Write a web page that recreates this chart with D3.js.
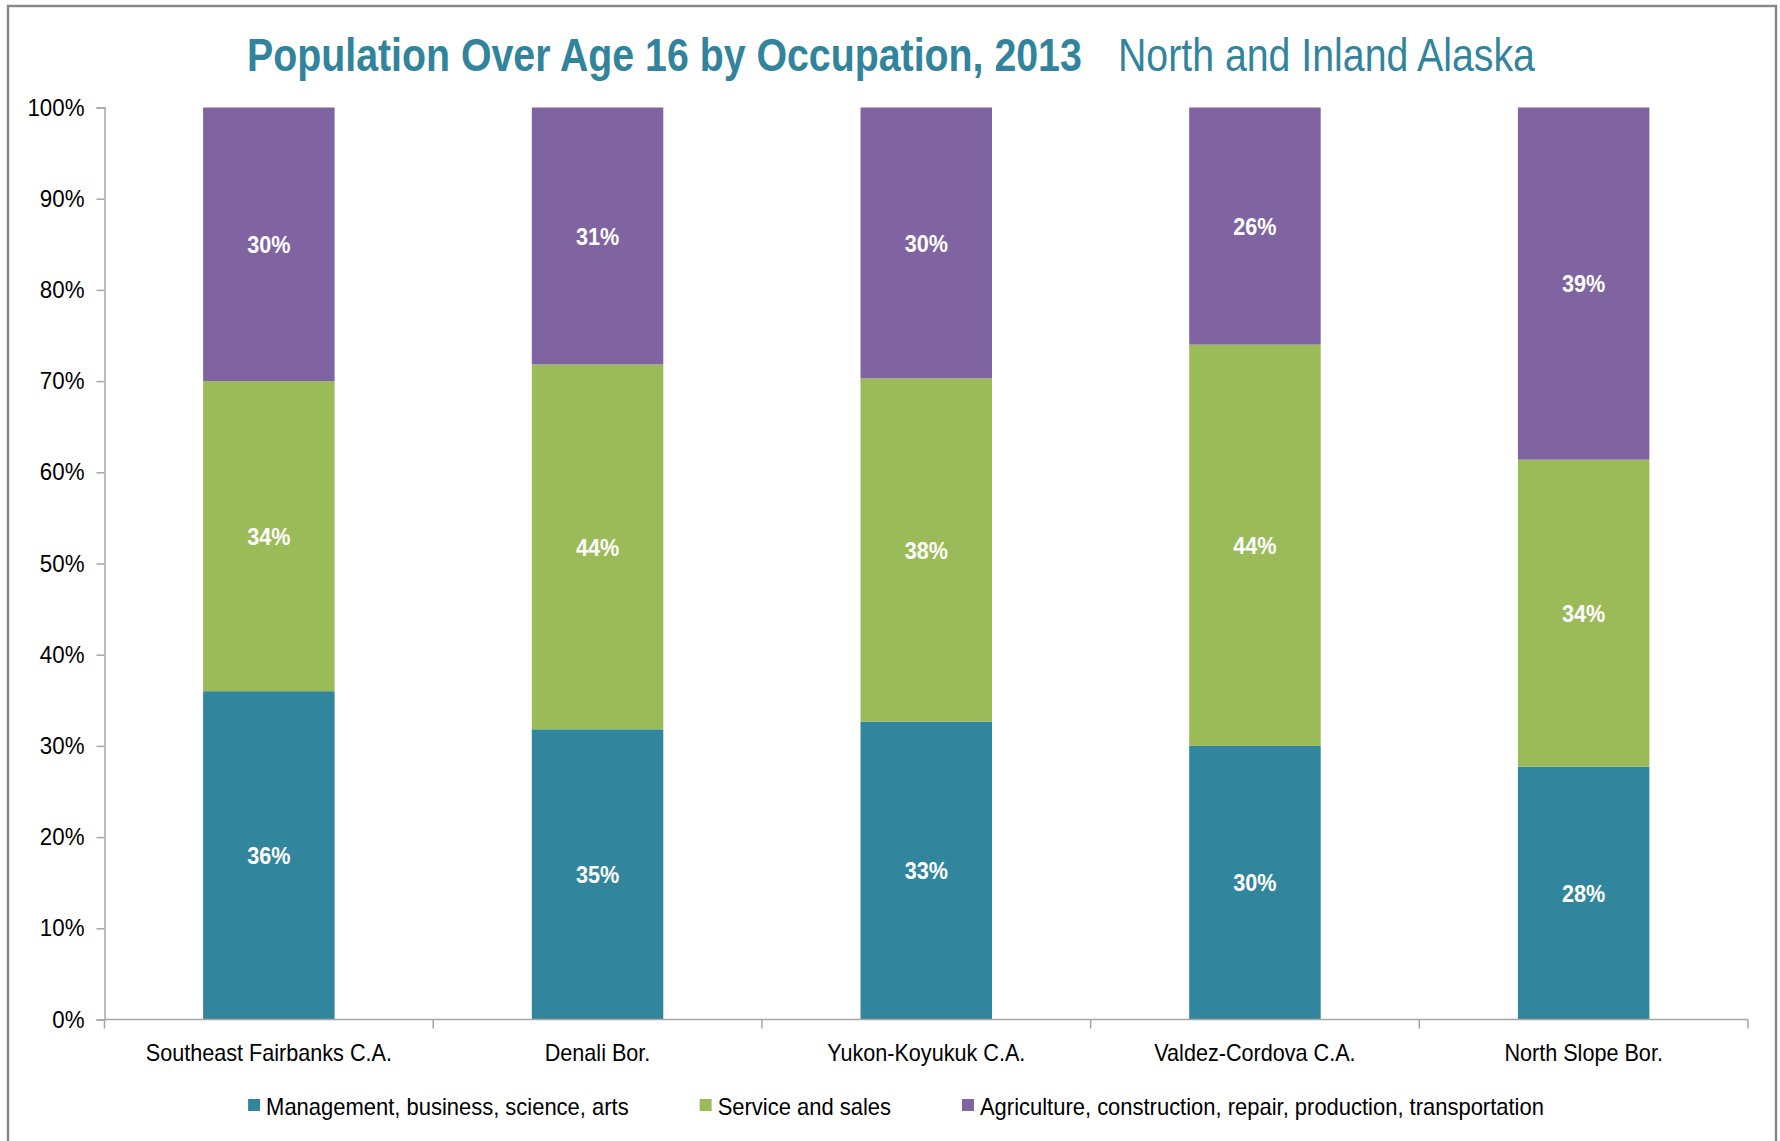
<!DOCTYPE html>
<html>
<head>
<meta charset="utf-8">
<script src="https://cdn.jsdelivr.net/npm/d3@7"></script>
<style>
  body { margin: 0; background: #fff; }
  svg text { font-family: "Liberation Sans", Arial, sans-serif; }
</style>
</head>
<body>
<div id="chart"></div>
<script>
const areas = ["Southeast Fairbanks C.A.", "Denali Bor.", "Yukon-Koyukuk C.A.", "Valdez-Cordova C.A.", "North Slope Bor."];
const seriesNames = ["Management, business, science, arts", "Service and sales", "Agriculture, construction, repair, production, transportation"];
const management = [36, 35, 33, 30, 28];
const service = [34, 44, 38, 44, 34];
const agriculture = [30, 31, 30, 26, 39];
const yTicks = [0, 0.1, 0.2, 0.3, 0.4, 0.5, 0.6, 0.7, 0.8, 0.9, 1];
const colors = ["#31859C", "#9BBB59", "#8064A2"];

const W = 1780, H = 1141;
const margin = { top: 107.5, right: 32, bottom: 121.5, left: 104.5 };
const width = W - margin.left - margin.right;
const height = H - margin.top - margin.bottom;

// squeeze text a little, the original font is narrower than Arial
const condense = (sel, k) => sel.each(function () {
    const len = this.getComputedTextLength();
    d3.select(this).attr("textLength", len * k).attr("lengthAdjust", "spacingAndGlyphs");
});

// fit a title piece into a given width by scaling it horizontally
const fitWidth = (sel, x0, y0, w) => sel.each(function () {
    const len = this.getComputedTextLength();
    d3.select(this).attr("transform", `translate(${x0},${y0}) scale(${w / len},1)`);
});

const svg = d3.select("#chart").append("svg")
    .attr("width", W)
    .attr("height", H);

svg.append("rect")
    .attr("x", 8).attr("y", 6)
    .attr("width", 1768).attr("height", H + 10)
    .attr("fill", "none")
    .attr("stroke", "#878787")
    .attr("stroke-width", 2.4);

svg.append("text")
    .attr("fill", "#31849B")
    .attr("font-size", 47)
    .attr("font-weight", "bold")
    .text("Population Over Age 16 by Occupation, 2013")
    .call(fitWidth, 247, 71, 835);

svg.append("text")
    .attr("fill", "#31849B")
    .attr("font-size", 47)
    .text("North and Inland Alaska")
    .call(fitWidth, 1118, 71, 417);

const g = svg.append("g")
    .attr("transform", `translate(${margin.left},${margin.top})`);

const rows = areas.map((a, i) => ({ area: a, s0: management[i], s1: service[i], s2: agriculture[i] }));
const stack = d3.stack().keys(["s0", "s1", "s2"]).offset(d3.stackOffsetExpand);
const layers = stack(rows);

const x = d3.scaleBand().domain(areas).range([0, width]).paddingInner(0.6).paddingOuter(0.3);
const y = d3.scaleLinear().domain([0, 1]).range([height, 0]);

const layer = g.selectAll(".layer")
    .data(layers)
    .enter().append("g")
    .attr("fill", (d, i) => colors[i]);

layer.selectAll("rect")
    .data(d => d)
    .enter().append("rect")
    .attr("x", d => x(d.data.area))
    .attr("y", d => y(d[1]))
    .attr("width", x.bandwidth())
    .attr("height", d => y(d[0]) - y(d[1]));

layer.selectAll("text")
    .data(d => d.map(p => ({ p, key: d.key })))
    .enter().append("text")
    .attr("x", d => x(d.p.data.area) + x.bandwidth() / 2)
    .attr("y", d => (y(d.p[0]) + y(d.p[1])) / 2)
    .attr("dy", "0.36em")
    .attr("text-anchor", "middle")
    .attr("fill", "#fff")
    .attr("font-size", 24)
    .attr("font-weight", "bold")
    .text(d => `${d.p.data[d.key]}%`)
    .call(condense, 0.9);

// y axis
const yAxis = g.append("g")
    .call(d3.axisLeft(y).tickValues(yTicks).tickFormat(d3.format(".0%")).tickSizeOuter(0).tickSize(8).tickPadding(12));
yAxis.select(".domain").attr("stroke", "#a6a6a6").attr("stroke-width", 1.5);
yAxis.selectAll(".tick line").attr("stroke", "#a6a6a6").attr("stroke-width", 1.5);
yAxis.selectAll(".tick text")
    .attr("font-size", 24)
    .attr("fill", "#000")
    .attr("font-family", "\"Liberation Sans\", Arial, sans-serif")
    .call(condense, 0.93);

// x axis, ticks sit between the categories like Excel
const xAxis = g.append("g")
    .attr("transform", `translate(0,${height})`);
xAxis.append("line")
    .attr("x1", 0).attr("x2", width)
    .attr("stroke", "#a6a6a6").attr("stroke-width", 1.5);
xAxis.selectAll(".sep")
    .data(d3.range(areas.length + 1))
    .enter().append("line")
    .attr("x1", i => i * x.step()).attr("x2", i => i * x.step())
    .attr("y1", 0).attr("y2", 9)
    .attr("stroke", "#a6a6a6").attr("stroke-width", 1.5);
xAxis.selectAll(".cat")
    .data(areas)
    .enter().append("text")
    .attr("x", d => x(d) + x.bandwidth() / 2)
    .attr("y", 41)
    .attr("text-anchor", "middle")
    .attr("font-size", 24)
    .attr("fill", "#000")
    .text(d => d)
    .call(condense, 0.9);

// legend
const legend = svg.append("g");
const items = legend.selectAll(".legend")
    .data(seriesNames)
    .enter().append("g")
    .attr("class", "legend");
items.append("rect")
    .attr("width", 12).attr("height", 12)
    .attr("y", 1099)
    .attr("fill", (d, i) => colors[i]);
items.append("text")
    .attr("x", 18)
    .attr("y", 1115)
    .attr("font-size", 24)
    .attr("fill", "#000")
    .text(d => d)
    .call(condense, 0.915);

let cx = 0;
const offsets = [];
items.each(function () {
    offsets.push(cx);
    cx += 18 + this.querySelector("text").getAttribute("textLength") * 1 + 71;
});
const total = cx - 71;
const startX = 896 - total / 2;
items.attr("transform", (d, i) => `translate(${startX + offsets[i]},0)`);
</script>
</body>
</html>
